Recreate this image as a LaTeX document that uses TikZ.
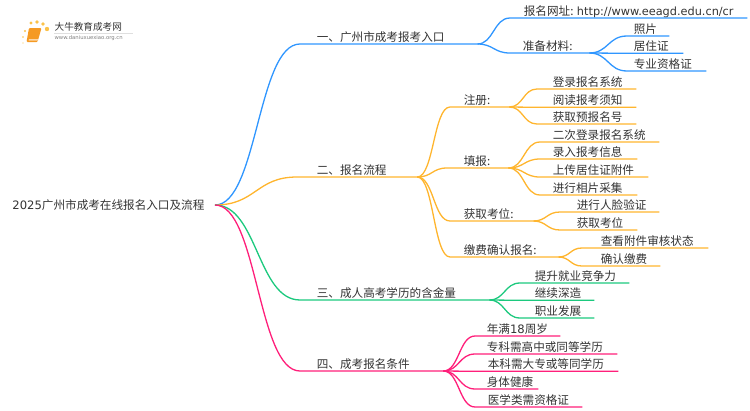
\documentclass[tikz,border=0pt]{standalone}
\usepackage{fontspec}
\usepackage{tikz}
\usetikzlibrary{calc}
\setmainfont{Noto Sans CJK SC}
\newfontfamily\lat{DejaVu Sans}
\definecolor{bluebr}{HTML}{2F96FF}
\definecolor{orangebr}{HTML}{FFB52E}
\definecolor{greenbr}{HTML}{1CC97E}
\definecolor{pinkbr}{HTML}{FF1F7A}
\definecolor{txt}{HTML}{333333}
\definecolor{logoor}{HTML}{F59A23}
\definecolor{logodot}{HTML}{FBC24A}
\tikzset{
  lab/.style={anchor=south west,inner xsep=0pt,inner ysep=.3pt,text height=9.5pt,text depth=1.5pt,
    align=left,font=\fontsize{11.6}{12}\selectfont,text=txt},
  lnk/.style={to path={let \p1=(\tikztostart),\p2=(\tikztotarget) in
    .. controls ({(\x1+\x2)/2},\y1) and ({(\x1+\x2)/2},\y2) .. (\tikztotarget)}}
}
% name / parent anchor / line start / text start / line end / y / text
\newcommand\branches[2]{
  \foreach \nm/\pr/\xa/\xt/\xb/\y/\tx in {#2} {
    \pgfmathsetmacro\wdt{\xb-\xa}
    \pgfmathsetmacro\off{\xt-\xa-.8}
    \node[lab,text width=\wdt pt] (\nm) at (\xa,\y) {\hspace*{\off pt}\tx};
    \draw[#1] (\pr) to[lnk] (\nm.south west) -- (\nm.south east);
  }
}
\begin{document}
\begin{tikzpicture}[x=1pt,y=-1pt,line width=1.3pt]
  \useasboundingbox (0,0) rectangle (750,410);
  \node[anchor=east,inner xsep=10pt,font=\fontsize{11.6}{12}\selectfont,text=txt] (root) at (215,205) {{\lat 2025}广州市成考在线报名入口及流程};

  % logo
  \foreach \px/\py/\r in {23/43/.7,23/37/.9,25/31/1.2,31/23/1.7,37/22/1.9,43/24/1.9,47/29/2.2}
    \fill[logodot] (\px,\py) circle (\r);
  \fill[logoor,rounded corners=1pt] (29,28) -- (41.5,28) -- (37.5,42) -- (26.5,42) -- cycle;
  \fill[white,opacity=.6] (29,39) -- (38.5,39) -- (38,40.5) -- (28.5,40.5) -- cycle;
  \node[anchor=west,inner sep=0pt,text=txt,font=\fontsize{9.6}{10}\selectfont] (logoname) at (54,27) {大牛教育成考网};
  \node[anchor=west,inner sep=0pt,text=gray,font=\lat\fontsize{5.3}{6}\selectfont] (logourl) at (54,38.5) {www.daniuxuexiao.org.cn};
  \draw[gray!25,line width=.4pt] (54,33) -- (133,33);

  % branches
  \branches{bluebr}{
    a/root.east/300/317/476/44/{一、广州市成考报考入口},
    aa/a.south east/510/524/746/18/{报名网址:\hspace{3.5pt}{\lat\fontsize{11.3}{12}\selectfont http://www.eeagd.edu.cn/cr}},
    ab/a.south east/510/523/588/53/{准备材料:},
    aba/ab.south east/627/634/668/36/{照片},
    abb/ab.south east/627/634/682/53.3/{居住证},
    abc/ab.south east/627/634/705/71/{专业资格证}}
  \branches{orangebr}{
    b/root.east/297/317/416/177/{二、报名流程},
    ba/b.south east/450/464/508/107/{注册:},
    baa/ba.south east/537/553/635/89/{登录报名系统},
    bab/ba.south east/537/553/635/107.3/{阅读报考须知},
    bac/ba.south east/537/553/635/124/{获取预报名号},
    bb/b.south east/447/464/507/168/{填报:},
    bba/bb.south east/540/553/658/142/{二次登录报名系统},
    bbb/bb.south east/540/553/636/159/{录入报考信息},
    bbc/bb.south east/540/553/647/177/{上传居住证附件},
    bbd/bb.south east/540/553/636/195/{进行相片采集},
    bc/b.south east/450/464/532/221/{获取考位:},
    bca/bc.south east/560/577/658/212/{进行人脸验证},
    bcb/bc.south east/560/577/636/230/{获取考位},
    bd/b.south east/450/464/557/257/{缴费确认报名:},
    bda/bd.south east/582/601/707/248/{查看附件审核状态},
    bdb/bd.south east/582/601/659/266/{确认缴费}}
  \branches{greenbr}{
    c/root.east/300/317/488/300/{三、成人高考学历的含金量},
    ca/c.south east/520/535/628/283/{提升就业竞争力},
    cb/c.south east/520/535/593/300.3/{继续深造},
    cc/c.south east/520/535/593/318/{职业发展}}
  \branches{pinkbr}{
    d/root.east/300/317/442/371/{四、成考报名条件},
    da/d.south east/475/487/559/336/{年满{\lat 18}周岁},
    db/d.south east/475/487/616/354/{专科需高中或同等学历},
    dc/d.south east/475/488/617/371.3/{本科需大专或等同学历},
    dd/d.south east/475/487/537/389/{身体健康},
    de/d.south east/475/488/581/407/{医学类需资格证}}
\end{tikzpicture}
\end{document}
